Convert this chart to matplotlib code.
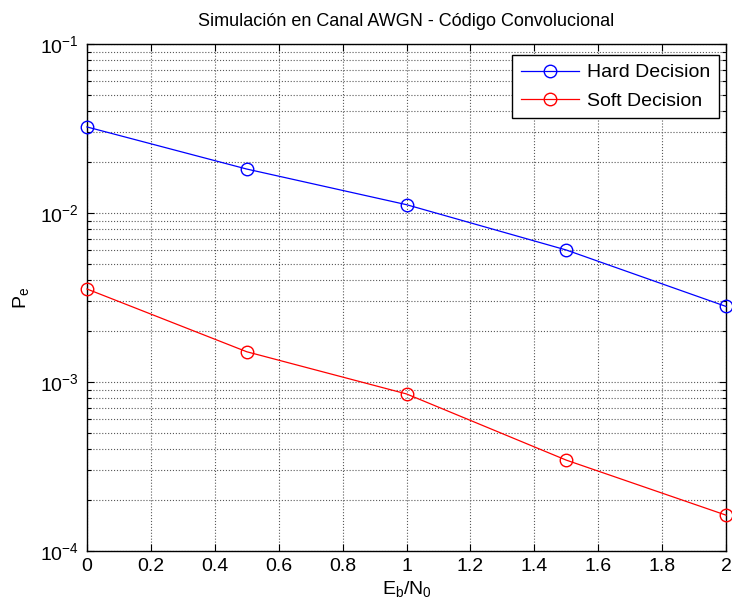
import matplotlib
matplotlib.use('Agg')
import matplotlib.pyplot as plt
from matplotlib.ticker import LogLocator, NullFormatter

# data
ebn0 = [0, 0.5, 1, 1.5, 2]
pe_hard = [0.0323, 0.0182, 0.0112, 0.00604, 0.0028]
pe_soft = [0.00355, 0.00151, 0.00085, 0.000345, 0.000163]

xticks = [0, 0.2, 0.4, 0.6, 0.8, 1, 1.2, 1.4, 1.6, 1.8, 2]
xticklabels = ['0', '0.2', '0.4', '0.6', '0.8', '1', '1.2', '1.4', '1.6', '1.8', '2']

plt.rcParams['font.family'] = ['Liberation Sans', 'DejaVu Sans']
plt.rcParams['mathtext.fontset'] = 'custom'
plt.rcParams['mathtext.rm'] = 'Liberation Sans'
plt.rcParams['mathtext.it'] = 'Liberation Sans'


def main():
    fig = plt.figure(figsize=(7.32, 6.07), dpi=100)
    ax = fig.add_axes([87 / 732, 1 - 551 / 607, (726 - 87) / 732, (551 - 44) / 607])

    ax.semilogy(ebn0, pe_hard, '-o', color='blue', mfc='none', ms=9, lw=0.9,
                label='Hard Decision', clip_on=False, zorder=3)
    ax.semilogy(ebn0, pe_soft, '-o', color='red', mfc='none', ms=9, lw=0.9,
                label='Soft Decision', clip_on=False, zorder=3)

    ax.set_xlim(0, 2)
    ax.set_ylim(1e-4, 1e-1)
    ax.set_xticks(xticks)
    ax.set_xticklabels(xticklabels)
    ax.yaxis.set_major_locator(LogLocator(base=10, numticks=10))
    ax.yaxis.set_minor_locator(LogLocator(base=10, subs=range(2, 10), numticks=10))
    ax.yaxis.set_minor_formatter(NullFormatter())

    ax.tick_params(which='both', direction='in', top=True, right=True, labelsize=14)
    ax.tick_params(which='major', length=5, width=0.8)
    ax.tick_params(which='minor', length=3, width=0.8)
    ax.tick_params(axis='x', pad=5)
    ax.tick_params(axis='y', pad=6)

    ax.grid(which='major', linestyle=':', color='0.35', linewidth=0.8)
    ax.grid(which='minor', linestyle=':', color='0.35', linewidth=0.8)
    for s in ax.spines.values():
        s.set_linewidth(1.0)

    ax.set_title('Simulación en Canal AWGN - Código Convolucional', fontsize=13, pad=13)
    ax.set_xlabel('E$_\\mathrm{b}$/N$_\\mathrm{0}$', fontsize=14, labelpad=3)
    ax.set_ylabel('P$_\\mathrm{e}$', fontsize=14, labelpad=6)

    leg = ax.legend(loc='upper right', fontsize=14, fancybox=False, framealpha=1,
                    edgecolor='black', borderaxespad=0, handlelength=3.0,
                    handletextpad=0.4, labelspacing=0.55, borderpad=0.45,
                    bbox_to_anchor=(719 / 732, 1 - 55 / 607),
                    bbox_transform=fig.transFigure)
    leg.get_frame().set_linewidth(1.0)

    fig.savefig('out.png', dpi=100)


if __name__ == '__main__':
    main()
